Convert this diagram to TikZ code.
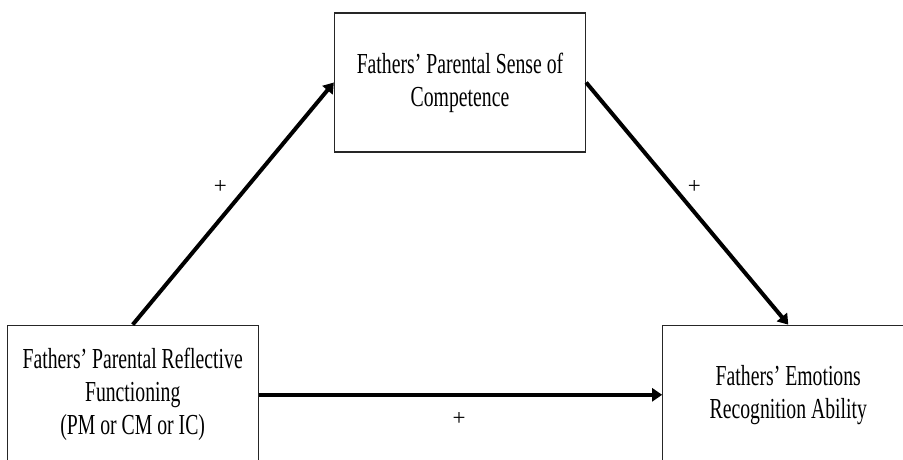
\documentclass[tikz,border=0pt]{standalone}
\usepackage{fontspec}
\setmainfont{Liberation Serif}[FakeStretch=0.68]
\newfontfamily\plainserif{Liberation Serif}
\usetikzlibrary{arrows.meta, positioning}
\tikzset{
  var/.style={
    rectangle,
    minimum width=251pt,
    minimum height=139pt,
    align=center,
    draw=black!85,
    line width=1.3pt,
    font=\fontsize{29}{33}\selectfont
  },
  link/.style={line width=4pt, -{Triangle[length=10pt,width=13pt]}},
  sign/.style={
    inner sep=0pt,
    font=\plainserif\fontsize{23}{23}\selectfont
  }
}

\begin{document}
\begin{tikzpicture}[x=1pt,y=-1pt]
  \useasboundingbox (0,0) rectangle (903,459);
  \clip (0,0) rectangle (903,459);
  \node (comp) [var] at (460,82.5) {Fathers’ Parental Sense of\\Competence};
  \node (prf) [var, below left=172pt and 75pt of comp] {Fathers’ Parental Reflective\\Functioning\\(PM or CM or IC)};
  \node (era) [var, below right=172pt and 76pt of comp] {Fathers’ Emotions\\Recognition Ability};
  \draw[link] (prf.north) -- (comp.west) node[sign, pos=0.515, shift={(-16,-13)}] {+};
  \draw[link] (comp.east) -- (era.north) node[sign, pos=0.476, shift={(12,-10.5)}] {+};
  \draw[link] (prf.east) -- (era.west) node[sign, pos=0.5, shift={(-1.5,24.5)}] {+};
\end{tikzpicture}
\end{document}
